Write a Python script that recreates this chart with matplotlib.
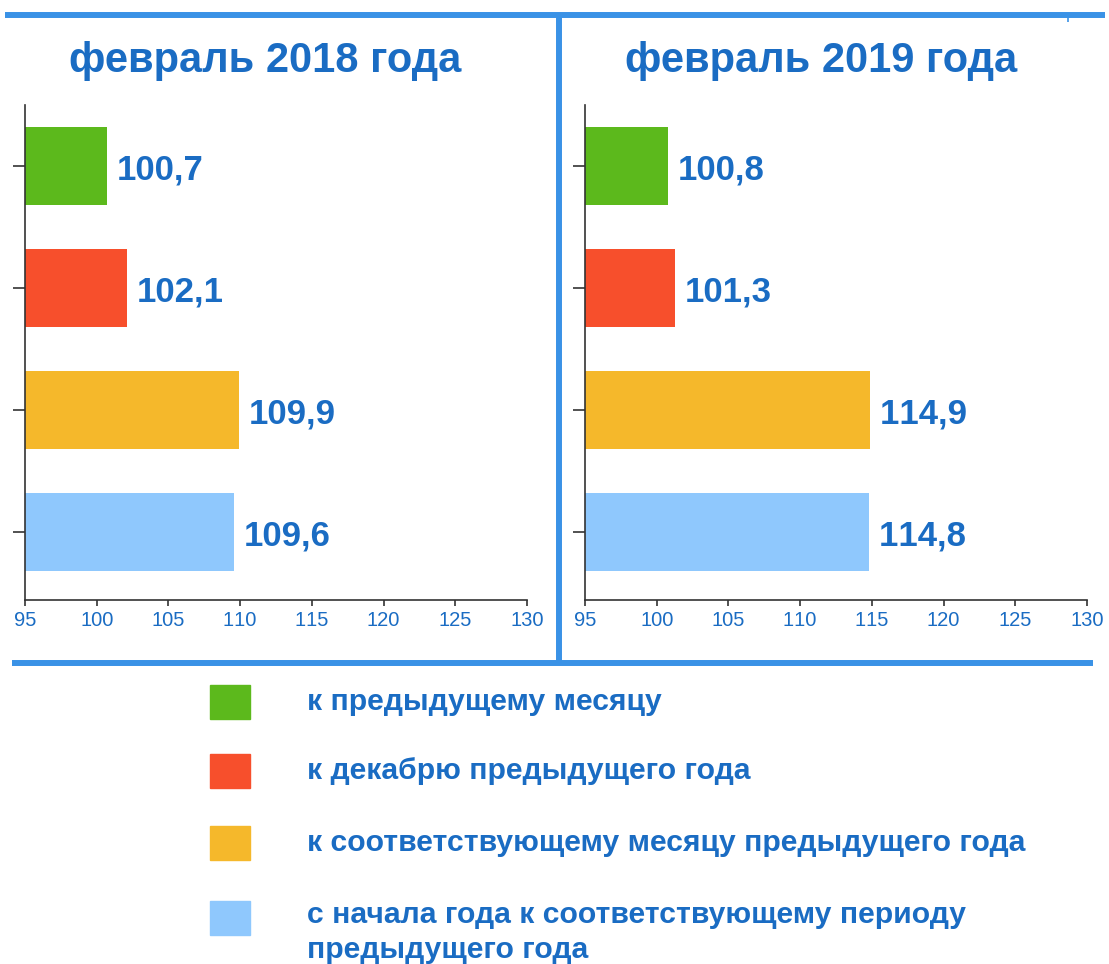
import matplotlib
matplotlib.use("Agg")
import matplotlib.pyplot as plt
from matplotlib.lines import Line2D
from matplotlib.patches import Rectangle

plt.rcParams['font.family'] = ['Liberation Sans', 'DejaVu Sans']

# ---- data ----
panel_titles = ["февраль 2018 года", "февраль 2019 года"]
categories = [
    "к предыдущему месяцу",
    "к декабрю предыдущего года",
    "к соответствующему месяцу предыдущего года",
    "с начала года к соответствующему периоду\nпредыдущего года",
]
values_2018 = [100.7, 102.1, 109.9, 109.6]
values_2019 = [100.8, 101.3, 114.9, 114.8]
labels_2018 = ["100,7", "102,1", "109,9", "109,6"]
labels_2019 = ["100,8", "101,3", "114,9", "114,8"]
x_ticks = [95, 100, 105, 110, 115, 120, 125, 130]

colors = ["#5cb91c", "#f74f2c", "#f5b82b", "#8fc8fd"]
text_blue = "#1a6cc3"
frame_blue = "#3a92e6"

W, H = 1109, 964
fig = plt.figure(figsize=(W / 100, H / 100), dpi=100)


def nokern(s):
    # break the "11" kerning pair of the font so digits keep even spacing
    return s.replace("11", "1\u200b1")


def px_axes(x0, y0, x1, y1):
    return fig.add_axes([x0 / W, 1 - y1 / H, (x1 - x0) / W, (y1 - y0) / H])


def fig_line(xs, ys, lw=4.3):
    fig.add_artist(Line2D([x / W for x in xs], [1 - y / H for y in ys],
                          transform=fig.transFigure, color=frame_blue,
                          linewidth=lw, solid_capstyle='butt'))


panels = [(25, 527, values_2018, labels_2018, 265),
          (585, 1087, values_2019, labels_2019, 821)]
for (x0, x1, vals, labs, tcx), title in zip(panels, panel_titles):
    ax = px_axes(x0, 105, x1, 600)
    pos = list(range(len(vals)))
    ax.barh(pos, [v - x_ticks[0] for v in vals], left=x_ticks[0], height=0.64,
            color=colors)
    for p, v, lab in zip(pos, vals, labs):
        ax.annotate(nokern(lab), (v, p), xytext=(7, -3), textcoords='offset points',
                    ha='left', va='center', fontsize=25, fontweight='bold',
                    color=text_blue)
    ax.set_xlim(x_ticks[0], x_ticks[-1])
    ax.set_ylim(3.56, -0.5)
    ax.set_xticks(x_ticks)
    ax.set_xticklabels([nokern(str(t)) for t in x_ticks])
    ax.set_yticks(pos)
    ax.set_yticklabels([])
    for s in ['top', 'right']:
        ax.spines[s].set_visible(False)
    for s in ['left', 'bottom']:
        ax.spines[s].set_color('#333333')
        ax.spines[s].set_linewidth(1.2)
    ax.tick_params(axis='x', direction='out', length=4.5, width=1.2,
                   color='#333333', labelcolor=text_blue, labelsize=14.5, pad=3.5)
    ax.tick_params(axis='y', direction='out', length=9, width=1.2,
                   color='#333333')
    ax.set_facecolor('none')
    fig.text(tcx / W, 1 - 61 / H, title, ha='center', va='center',
             fontsize=30, fontweight='bold', color=text_blue)

# frame lines
fig_line([5, 1105], [15, 15])
fig_line([559, 559], [15, 663])
fig_line([12, 1093], [663, 663])
fig_line([1068, 1068], [15, 22], lw=1.2)

# legend
legend_y = [702, 771, 843, 918]
for c, lab, y in zip(colors, categories, legend_y):
    fig.add_artist(Rectangle((210 / W, 1 - (y + 17) / H), 40 / W, 34 / H,
                             transform=fig.transFigure, color=c))
    if '\n' in lab:
        fig.text(307 / W, 1 - (y - 17) / H, lab, ha='left', va='top',
                 fontsize=21.7, fontweight='bold', color=text_blue, linespacing=1.32)
    else:
        fig.text(307 / W, 1 - y / H, lab, ha='left', va='center',
                 fontsize=21.7, fontweight='bold', color=text_blue)

fig.savefig("out.png", dpi=100)
